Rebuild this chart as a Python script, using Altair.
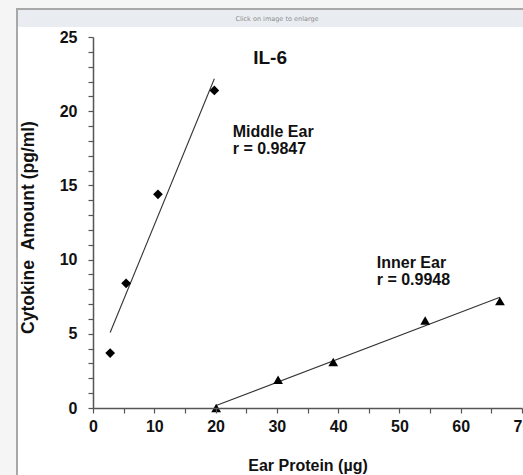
import altair as alt
import pandas as pd

# Middle ear samples (diamonds)
middle_protein = [2.8, 5.4, 10.6, 19.8]
middle_amount = [3.7, 8.4, 14.4, 21.4]

# Inner ear samples (triangles)
inner_protein = [20.1, 30.2, 39.2, 54.2, 66.4]
inner_amount = [0.0, 1.9, 3.1, 5.9, 7.2]

# Annotation text
title_text = "IL-6"
middle_label = ["Middle Ear", "r = 0.9847"]
inner_label = ["Inner Ear", "r = 0.9948"]

FONT = "Liberation Sans"

df = pd.DataFrame({
    "protein": middle_protein + inner_protein,
    "amount": middle_amount + inner_amount,
    "ear": ["Middle"] * len(middle_protein) + ["Inner"] * len(inner_protein),
})

x_scale = alt.Scale(domain=[0, 70], nice=False, zero=True)
y_scale = alt.Scale(domain=[0, 25], nice=False)

axis_style = dict(
    grid=False, tickSize=5,
    labelFontSize=16, labelFontWeight="bold", titleFontWeight="bold",
    labelFont=FONT, titleFont=FONT, labelColor="#111", titleColor="#111",
    domainColor="#555", tickColor="#555", domainWidth=1.5, tickWidth=1.2,
    labelFlush=False, labelOverlap=False, zindex=1,
)
x_axis = alt.Axis(
    values=list(range(0, 75, 5)),
    labelExpr="datum.value % 10 == 0 ? datum.label : ''",
    title="Ear Protein (µg)", titleFontSize=16,
    labelPadding=5, titlePadding=23, **axis_style,
)
y_axis = alt.Axis(
    values=list(range(0, 26)),
    labelExpr="datum.value % 5 == 0 ? datum.label : ''",
    title="Cytokine\u00a0\u00a0Amount (pg/ml)", titleFontSize=17.5, titleY=190,
    labelPadding=11, titlePadding=22, **axis_style,
)

X = alt.X("protein:Q", scale=x_scale, axis=x_axis)
Y = alt.Y("amount:Q", scale=y_scale, axis=y_axis)

base = alt.Chart(df)

fit = base.transform_regression(
    "protein", "amount", groupby=["ear"]
).mark_line(color="#333", strokeWidth=1.1).encode(x=X, y=Y, detail="ear:N")

diamonds = base.transform_filter(alt.datum.ear == "Middle").mark_point(
    shape="diamond", filled=True, color="black", size=95, opacity=1
).encode(x=X, y=Y)

triangles = base.transform_filter(alt.datum.ear == "Inner").mark_point(
    shape="triangle-up", filled=True, color="black", size=95, opacity=1
).encode(x=X, y=Y)

# Text annotations placed in data coordinates
ann = pd.DataFrame({
    "protein": [28.9, 22.8, 22.8, 46.3, 46.3],
    "amount": [23.6, 18.6, 17.45, 9.8, 8.6],
    "text": [title_text] + middle_label + inner_label,
})
title_mark = alt.Chart(ann.iloc[[0]]).mark_text(
    font=FONT, fontSize=19, fontWeight="bold", color="#111", align="center", baseline="middle"
).encode(x=X, y=Y, text="text:N")
labels_mark = alt.Chart(ann.iloc[1:]).mark_text(
    font=FONT, fontSize=16, fontWeight="bold", color="#111", align="left", baseline="middle"
).encode(x=X, y=Y, text="text:N")

# Surrounding page frame (outside the plot area, pixel offsets from plot origin)
one = alt.Data(values=[{}])
def frame_rect(x0, x1, y0, y1, color):
    return alt.Chart(one).mark_rect(color=color, opacity=1).encode(
        x=alt.value(x0), x2=alt.value(x1), y=alt.value(y0), y2=alt.value(y1)
    )

LEFT, TOP = 93, 37
page_left = frame_rect(-LEFT, 16 - LEFT, -TOP, 475 - TOP, "#f5f5f5")
page_top = frame_rect(-LEFT, 523 - LEFT, -TOP, 8 - TOP, "#f5f5f5")
border_left = frame_rect(16 - LEFT, 18 - LEFT, 8 - TOP, 475 - TOP, "#a8a8a8")
border_top = frame_rect(16 - LEFT, 523 - LEFT, 8 - TOP, 10 - TOP, "#a8a8a8")
header = frame_rect(18 - LEFT, 523 - LEFT, 10 - TOP, 27 - TOP, "#e9edf2")
header_text = alt.Chart(one).mark_text(
    text="Click on image to enlarge", font="DejaVu Sans", fontSize=6.5,
    color="#8c8c8c", align="center", baseline="middle"
).encode(x=alt.value(277 - LEFT), y=alt.value(19 - TOP))

chart = alt.layer(
    page_left, page_top, border_left, border_top, header, header_text,
    fit, diamonds, triangles, title_mark, labels_mark,
).properties(
    width=429, height=371,
    autosize=alt.AutoSizeParams(type="none"),
    padding={"left": LEFT, "top": TOP, "right": 1, "bottom": 67},
    background="white",
).configure_view(stroke=None)

chart.save("out.html", embed_options={"renderer": "svg", "actions": False})
